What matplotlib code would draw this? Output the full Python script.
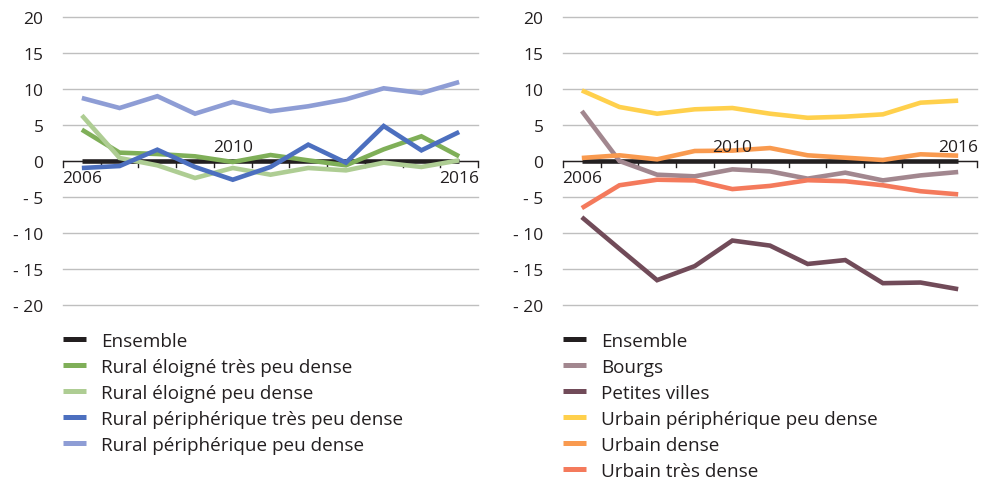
import matplotlib.pyplot as plt
from matplotlib.lines import Line2D

years = list(range(2006, 2017))

# left panel
left_names = [
    "Ensemble",
    "Rural éloigné très peu dense",
    "Rural éloigné peu dense",
    "Rural périphérique très peu dense",
    "Rural périphérique peu dense",
]
ensemble = [0, 0, 0, 0, 0, 0, 0, 0, 0, 0, 0]
rural_eloigne_tpd = [4.35, 1.16, 0.97, 0.65, -0.14, 0.83, 0.09, -0.6, 1.62, 3.43, 0.65]
rural_eloigne_pd = [6.34, 0.42, -0.6, -2.36, -0.97, -1.9, -0.97, -1.3, -0.23, -0.83, 0.09]
rural_periph_tpd = [-0.97, -0.7, 1.57, -0.83, -2.6, -0.83, 2.27, -0.23, 4.86, 1.48, 4.03]
rural_periph_pd = [8.75, 7.36, 9.0, 6.57, 8.2, 6.9, 7.6, 8.56, 10.1, 9.44, 10.97]
left_series = [ensemble, rural_eloigne_tpd, rural_eloigne_pd, rural_periph_tpd, rural_periph_pd]
left_colors = ["#231F20", "#7FAF58", "#AECD93", "#4C6FBF", "#8E9DD5"]

# right panel
right_names = [
    "Ensemble",
    "Bourgs",
    "Petites villes",
    "Urbain périphérique peu dense",
    "Urbain dense",
    "Urbain très dense",
]
bourgs = [6.94, 0.0, -1.9, -2.13, -1.16, -1.44, -2.45, -1.62, -2.69, -2.0, -1.53]
petites_villes = [-7.8, -12.2, -16.55, -14.6, -11.05, -11.75, -14.3, -13.76, -16.97, -16.88, -17.8]
urbain_periph_pd = [9.8, 7.5, 6.57, 7.18, 7.36, 6.57, 6.0, 6.16, 6.48, 8.1, 8.38]
urbain_dense = [0.42, 0.79, 0.23, 1.39, 1.44, 1.8, 0.79, 0.46, 0.14, 0.93, 0.74]
urbain_tres_dense = [-6.54, -3.37, -2.6, -2.7, -3.9, -3.46, -2.67, -2.81, -3.37, -4.2, -4.63]
right_series = [ensemble, bourgs, petites_villes, urbain_periph_pd, urbain_dense, urbain_tres_dense]
right_colors = ["#231F20", "#A2878F", "#714B59", "#FFD04C", "#F99A4F", "#F47A5C"]

yticks = [20, 15, 10, 5, 0, -5, -10, -15, -20]
ytick_labels = ["20", "15", "10", "5", "0", "- 5", "- 10", "- 15", "- 20"]

# which year labels are shown, and whether above (True) or below the axis
left_year_labels = {2006: False, 2010: True, 2016: False}
right_year_labels = {2006: False, 2010: True, 2016: True}

plt.rcParams.update({
    "font.family": ["Open Sans", "DejaVu Sans"],
    "text.color": "#231F20",
})

W, H = 984, 481
fig = plt.figure(figsize=(W / 100, H / 100), dpi=100)


def draw_panel(left_px, right_px, names, series, colors, year_labels):
    ax = fig.add_axes([left_px / W, 1 - 306 / H, (right_px - left_px) / W, (306 - 18) / H])
    x = list(range(len(years)))
    for vals, c in zip(series, colors):
        ax.plot(x, vals, color=c, lw=3.3, solid_capstyle="butt", solid_joinstyle="miter", zorder=3)
    ax.set_xlim(-0.5, len(years) - 0.5)
    ax.set_ylim(-20, 20)
    ax.set_yticks(yticks)
    ax.set_yticklabels(ytick_labels)
    ax.tick_params(axis="y", length=0, pad=14, labelsize=12.5, labelcolor="#231F20")
    for sp in ax.spines.values():
        sp.set_visible(False)
    ax.grid(axis="y", color="#BFBFBF", lw=1.0)
    for gl in ax.yaxis.get_gridlines():
        gl.set_clip_on(False)
    ax.set_axisbelow(True)
    ax.set_xticks([])
    # category axis at zero with tick marks between categories
    ax.axhline(0, color="#231F20", lw=1.0, zorder=2)
    for b in [i - 0.5 for i in range(len(years) + 1)]:
        ax.plot([b, b], [0, -0.85], color="#231F20", lw=1.0, zorder=2, clip_on=False)
    for yr, above in year_labels.items():
        i = years.index(yr)
        if above:
            ax.text(i, 0.8, str(yr), ha="center", va="bottom", fontsize=12.5)
        else:
            ax.text(i, -1.2, str(yr), ha="center", va="top", fontsize=12.5)

    handles = [Line2D([0], [0], color=c, lw=3.6, solid_capstyle="butt") for c in colors]
    ax.legend(
        handles, names,
        loc="upper left",
        bbox_to_anchor=(left_px / W, 1 - 333 / H),
        bbox_transform=fig.transFigure,
        frameon=False,
        fontsize=13.6,
        handlelength=1.2,
        handletextpad=0.8,
        labelspacing=0.42,
        borderpad=0,
        borderaxespad=0,
    )
    return ax


draw_panel(63, 478, left_names, left_series, left_colors, left_year_labels)
draw_panel(563, 977, right_names, right_series, right_colors, right_year_labels)

fig.savefig("out.png", dpi=100)
